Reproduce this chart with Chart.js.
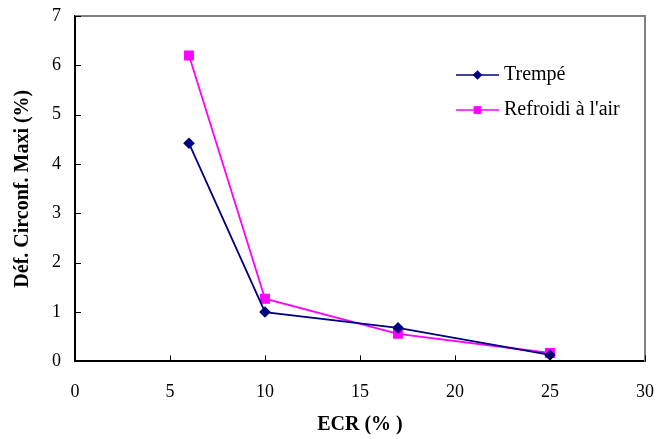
<!DOCTYPE html>
<html>
<head>
<meta charset="utf-8">
<script src="https://cdn.jsdelivr.net/npm/chart.js@4"></script>
<style>
  html, body { margin: 0; padding: 0; background: #fff; }
  #wrap { width: 656px; height: 439px; }
</style>
</head>
<body>
<div id="wrap"><canvas id="chart" width="656" height="439"></canvas></div>
<script>
const ecr = [6, 10, 17, 25];
const trempe = [4.42, 1.0, 0.68, 0.13];
const refroidi = [6.2, 1.27, 0.56, 0.17];
const xTicks = [0, 5, 10, 15, 20, 25, 30];
const yTicks = [0, 1, 2, 3, 4, 5, 6, 7];

const FONT = '"Liberation Serif", "Times New Roman", serif';

// inward tick marks + gray top/right frame
const frame = {
  id: 'frame',
  afterDraw (chart) {
    const { ctx, chartArea: a, scales: { x, y } } = chart;
    ctx.save();
    ctx.strokeStyle = '#808080';
    ctx.lineWidth = 2;
    ctx.beginPath();
    ctx.moveTo(a.left, a.top);
    ctx.lineTo(a.right, a.top);
    ctx.lineTo(a.right, a.bottom);
    ctx.stroke();
    ctx.strokeStyle = '#000';
    ctx.lineWidth = 1;
    ctx.beginPath();
    xTicks.forEach(v => {
      const px = Math.round(x.getPixelForValue(v)) + 0.5;
      ctx.moveTo(px, a.bottom);
      ctx.lineTo(px, a.bottom - 6);
    });
    yTicks.forEach(v => {
      const py = Math.round(y.getPixelForValue(v)) + 0.5;
      ctx.moveTo(a.left, py);
      ctx.lineTo(a.left + 6, py);
    });
    ctx.stroke();
    ctx.restore();
  }
};

// legend drawn inside the plot area
const innerLegend = {
  id: 'innerLegend',
  afterDraw (chart) {
    const { ctx, chartArea: a } = chart;
    const x0 = a.right - 189;
    const rows = [a.top + 59, a.top + 94];
    ctx.save();
    chart.data.datasets.forEach((ds, i) => {
      const yy = rows[i];
      ctx.strokeStyle = ds.borderColor;
      ctx.lineWidth = 1.5;
      ctx.beginPath();
      ctx.moveTo(x0, yy);
      ctx.lineTo(x0 + 43, yy);
      ctx.stroke();
      ctx.fillStyle = ds.backgroundColor;
      Chart.helpers.drawPoint(ctx, {
        pointStyle: ds.pointStyle,
        radius: ds.pointStyle === 'rect' ? 5.5 : 4.8,
        borderWidth: 0
      }, x0 + 21.5, yy);
      ctx.fillStyle = '#000';
      ctx.font = '20px ' + FONT;
      ctx.textBaseline = 'middle';
      ctx.fillText(ds.label, x0 + 48, yy);
    });
    ctx.restore();
  }
};

new Chart(document.getElementById('chart'), {
  type: 'line',
  data: {
    datasets: [{
      label: 'Trempé',
      data: ecr.map((v, i) => ({ x: v, y: trempe[i] })),
      borderColor: '#000080',
      backgroundColor: '#000080',
      borderWidth: 1.8,
      pointStyle: 'rectRot',
      pointRadius: 5.8,
      pointBorderWidth: 0
    }, {
      label: "Refroidi à l'air",
      data: ecr.map((v, i) => ({ x: v, y: refroidi[i] })),
      borderColor: '#FF00FF',
      backgroundColor: '#FF00FF',
      borderWidth: 1.8,
      pointStyle: 'rect',
      pointRadius: 7,
      pointBorderWidth: 0
    }]
  },
  options: {
    responsive: false,
    animation: false,
    layout: { padding: { top: 16, right: 11, left: 11, bottom: 2 } },
    scales: {
      x: {
        type: 'linear',
        min: 0,
        max: 30,
        grid: { display: false, drawTicks: true, tickLength: 20 },
        border: { color: '#000', width: 2 },
        ticks: {
          stepSize: 5,
          padding: 0,
          color: '#000',
          font: { family: FONT, size: 18 }
        },
        title: {
          display: true,
          text: 'ECR (% )',
          color: '#000',
          padding: { top: 10, bottom: 0 },
          font: { family: FONT, size: 20, weight: 'bold' }
        }
      },
      y: {
        min: 0,
        max: 7,
        grid: { display: false, drawTicks: true, tickLength: 14 },
        border: { color: '#000', width: 2 },
        ticks: {
          stepSize: 1,
          padding: 0,
          color: '#000',
          font: { family: FONT, size: 18 }
        },
        title: {
          display: true,
          text: 'Déf. Circonf. Maxi (%)',
          color: '#000',
          padding: { top: 0, bottom: 17 },
          font: { family: FONT, size: 20, weight: 'bold' }
        }
      }
    },
    plugins: {
      legend: { display: false },
      tooltip: { enabled: false }
    }
  },
  plugins: [frame, innerLegend]
});
</script>
</body>
</html>
